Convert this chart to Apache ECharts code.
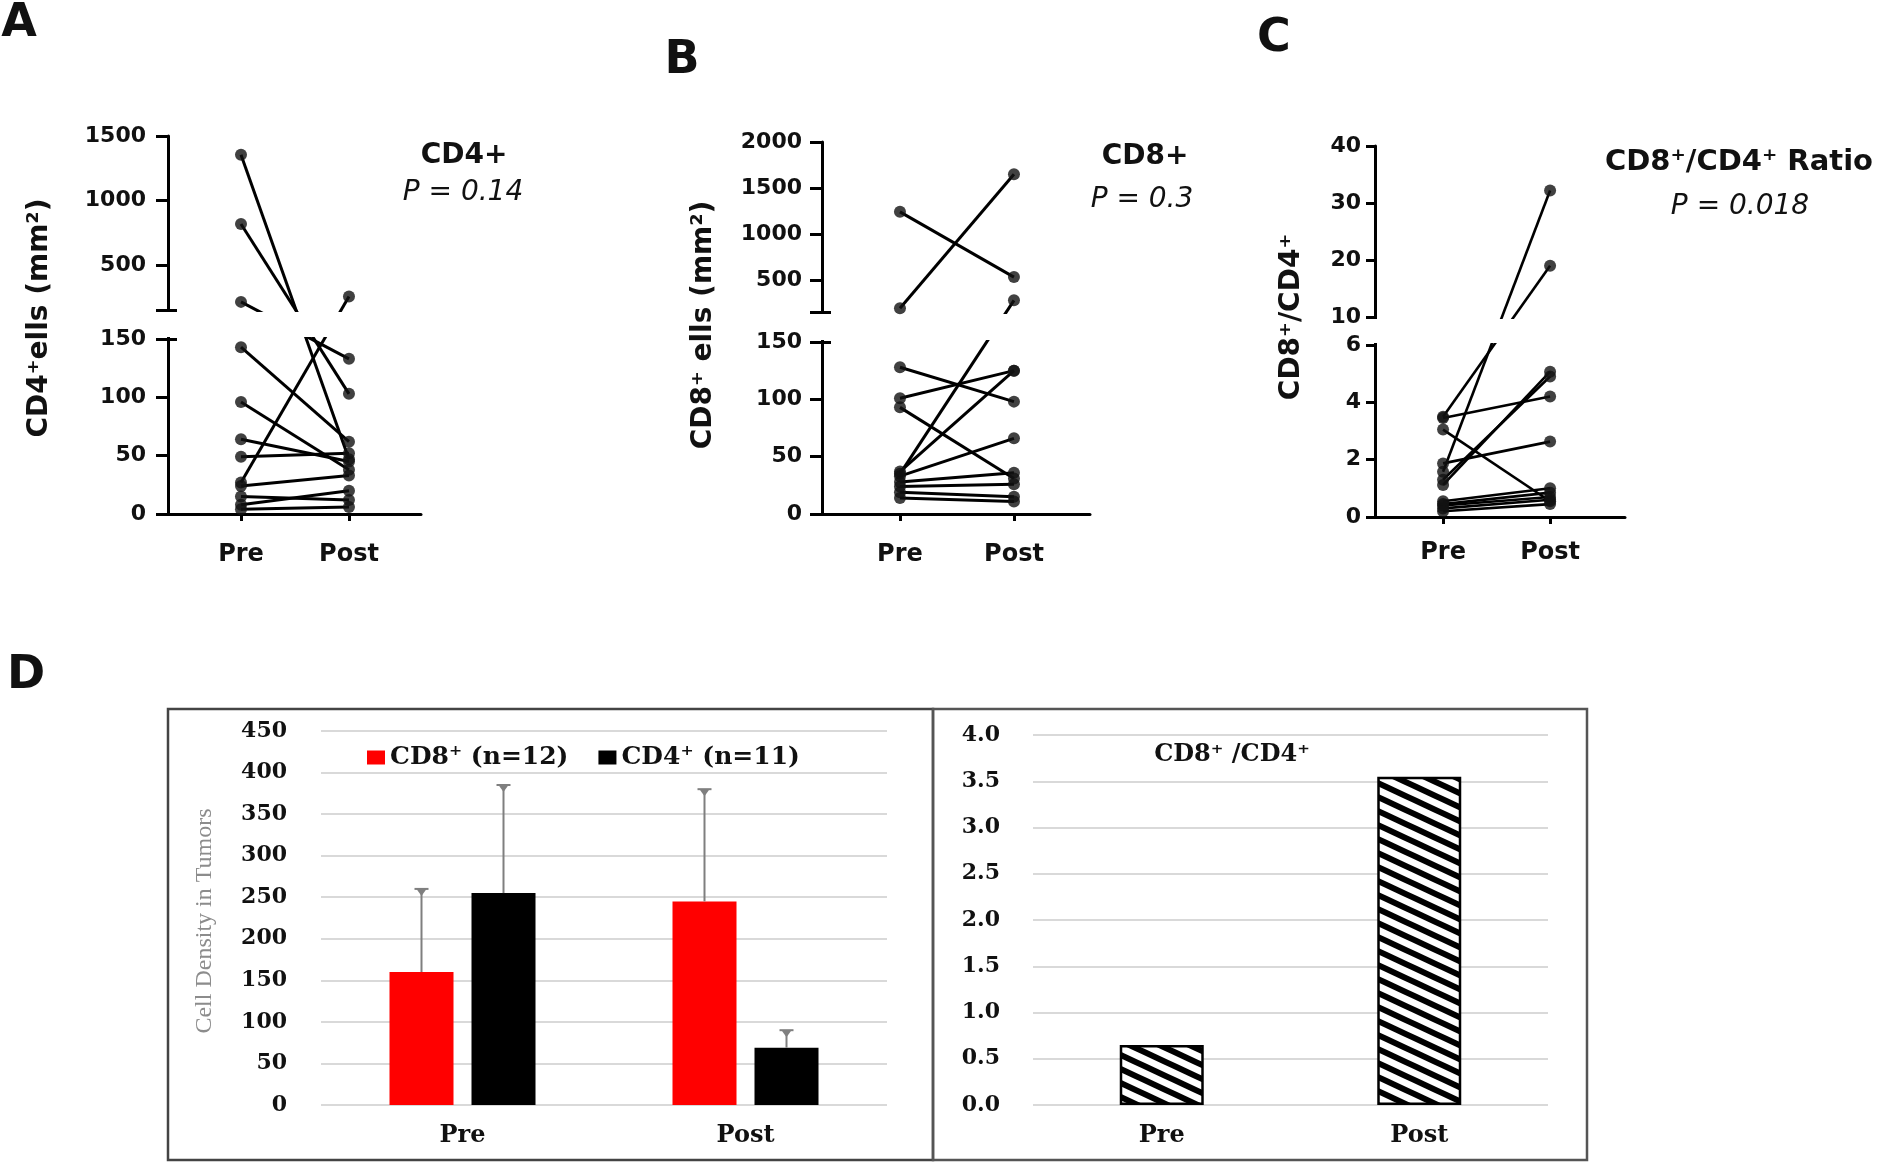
<!DOCTYPE html>
<html>
<head>
<meta charset="utf-8">
<script src="https://cdn.jsdelivr.net/npm/echarts@6/dist/echarts.min.js"></script>
<style>html,body{margin:0;padding:0;background:#fff}#c{width:1887px;height:1163px}</style>
</head>
<body>
<div id="c"></div>
<script>
// ---------------- Data ----------------
const pairCategories = ['Pre', 'Post'];

// Panel A: CD4+ cells (mm^2), paired Pre -> Post
const cd4Pre  = [1354, 817, 213, 143, 96, 64, 49, 27, 24, 15, 8, 4];
const cd4Post = [47, 103, 133, 62, 38, 45, 52, 255, 33, 12, 20, 6];

// Panel B: CD8+ cells (mm^2)
const cd8Pre  = [1240, 190, 128, 101, 93, 35, 37, 33, 28, 24, 19, 14];
const cd8Post = [530, 1650, 98, 125, 31, 277, 125, 66, 36, 26, 15, 11];

// Panel C: CD8+/CD4+ ratio
const ratioPre  = [3.5, 3.45, 3.05, 1.87, 1.58, 1.3, 1.12, 0.55, 0.45, 0.4, 0.3, 0.2];
const ratioPost = [19, 4.2, 0.55, 2.63, 32.2, 4.9, 5.07, 1.0, 0.85, 0.7, 0.6, 0.45];

// Tick labels of the broken axes
const cd4TicksLow  = [0, 50, 100, 150];
const cd4TicksHigh = [500, 1000, 1500];
const cd8TicksLow  = [0, 50, 100, 150];
const cd8TicksHigh = [500, 1000, 1500, 2000];
const ratioTicksLow  = [0, 2, 4, 6];
const ratioTicksHigh = [10, 20, 30, 40];

// Panel D left: cell density (mean, SD)
const densityCategories = ['Pre', 'Post'];
const cd8Mean = [160, 245];
const cd8Sd   = [100, 135];
const cd4Mean = [255, 69];
const cd4Sd   = [130, 21];

// Panel D right: CD8+/CD4+ mean ratio
const ratioCategories = ['Pre', 'Post'];
const ratioMean = [0.65, 3.55];

// ---------------- Layout / styles ----------------
const SANS = 'DejaVu Sans';
const SERIF = 'DejaVu Serif';

const panels = [
  { pre: cd4Pre, post: cd4Post, low: cd4TicksLow, high: cd4TicksHigh,
    lowMax: 150, upMin: 150, upMax: 1500, lowH: 175, gapH: 29, upH: 174,
    left: 168, width: 253, bottom: 514, xMin: 0.324, xMax: 2.667,
    caps: true, tickLen: 12, labelMargin: 22, lineW: 3, xMargin: 29 },
  { pre: cd8Pre, post: cd8Post, low: cd8TicksLow, high: cd8TicksHigh,
    lowMax: 150, upMin: 150, upMax: 2000, lowH: 172, gapH: 30, upH: 170,
    left: 822, width: 268, bottom: 514, xMin: 0.316, xMax: 2.667,
    caps: true, tickLen: 12, labelMargin: 20, lineW: 3, xMargin: 29 },
  { pre: ratioPre, post: ratioPost, low: ratioTicksLow, high: ratioTicksHigh,
    lowMax: 6, upMin: 10, upMax: 40, lowH: 172, gapH: 28, upH: 171,
    left: 1375, width: 250, bottom: 517, xMin: 0.364, xMax: 2.70,
    caps: false, tickLen: 9, labelMargin: 14, lineW: 2.6, xMargin: 24 }
];

const grids = [], xAxes = [], yAxes = [], series = [];

panels.forEach((p, i) => {
  const total = p.lowH + p.gapH + p.upH;
  const upper = v => p.lowH + p.gapH + (v - p.upMin) / (p.upMax - p.upMin) * p.upH;
  const f = v => (v <= p.lowMax ? v / p.lowMax * p.lowH : upper(v));
  p.total = total;
  grids.push({ left: p.left, width: p.width, top: p.bottom - total, height: total });

  const labelMap = {};
  const labelPos = [];
  p.low.forEach(v => { const y = v / p.lowMax * p.lowH; labelMap[y.toFixed(3)] = String(v); labelPos.push(y); });
  p.high.forEach(v => { const y = upper(v); labelMap[y.toFixed(3)] = String(v); labelPos.push(y); });
  const tickPos = labelPos.slice();
  if (p.caps) tickPos.push(p.lowH + p.gapH);

  xAxes.push({
    type: 'value', gridIndex: i, min: p.xMin, max: p.xMax,
    axisLine: { onZero: false, lineStyle: { color: '#000', width: 3 } },
    axisTick: { customValues: [1, 2], length: 7, lineStyle: { color: '#000', width: 3 } },
    axisLabel: { customValues: [1, 2], formatter: v => pairCategories[Math.round(v) - 1],
      margin: p.xMargin, fontFamily: SANS, fontWeight: 'bold', fontSize: 24, color: '#111' },
    splitLine: { show: false }
  });

  p.yIndex = yAxes.length;
  yAxes.push({
    type: 'value', gridIndex: i, min: 0, max: total, position: 'left',
    axisLine: { show: true, onZero: false, lineStyle: { color: '#000', width: 3 } },
    axisTick: { show: true, customValues: tickPos, length: p.tickLen, lineStyle: { color: '#000', width: 3 } },
    axisLabel: { customValues: labelPos, formatter: v => labelMap[v.toFixed(3)] || '',
      margin: p.labelMargin, fontFamily: SANS, fontWeight: 'bold', fontSize: 22, color: '#111' },
    splitLine: { show: false }
  });
  if (p.caps) {
    yAxes.push({
      type: 'value', gridIndex: i, min: 0, max: total, position: 'left', offset: 0,
      axisLine: { show: false, onZero: false },
      axisTick: { show: true, inside: true, customValues: [p.lowH, p.lowH + p.gapH], length: 9,
        lineStyle: { color: '#000', width: 3 } },
      axisLabel: { show: false }, splitLine: { show: false }
    });
  }

  p.pre.forEach((a, k) => {
    series.push({
      type: 'line', xAxisIndex: i, yAxisIndex: p.yIndex, silent: true, animation: false,
      data: [[1, f(a)], [2, f(p.post[k])]], symbol: 'none',
      lineStyle: { color: '#000', width: p.lineW }, z: 2
    });
  });
  series.push({
    type: 'scatter', xAxisIndex: i, yAxisIndex: p.yIndex, silent: true, animation: false,
    data: p.pre.map(a => [1, f(a)]).concat(p.post.map(b => [2, f(b)])),
    symbol: 'circle', symbolSize: 12, itemStyle: { color: '#111' }, z: 150
  });
});

// ---- Panel D left ----
const BW = 64, BG = 18;
grids.push({ left: 321, top: 731, width: 566, height: 374 });
xAxes.push({
  type: 'category', gridIndex: 3, data: densityCategories,
  axisLine: { show: false }, axisTick: { show: false },
  axisLabel: { margin: 19, fontFamily: SERIF, fontWeight: 'bold', fontSize: 24, color: '#111' }
});
const dLeftY = yAxes.length;
yAxes.push({
  type: 'value', gridIndex: 3, min: 0, max: 450, interval: 50,
  axisLine: { show: false }, axisTick: { show: false },
  axisLabel: { margin: 34, fontFamily: SERIF, fontWeight: 'bold', fontSize: 22, color: '#111' },
  splitLine: { lineStyle: { color: '#d9d9d9', width: 2 } }
});
series.push({
  name: 'CD8⁺ (n=12)', type: 'bar', xAxisIndex: 3, yAxisIndex: dLeftY, data: cd8Mean,
  barWidth: BW, barGap: (BG / BW * 100) + '%', itemStyle: { color: '#ff0000' }, animation: false
});
series.push({
  name: 'CD4⁺ (n=11)', type: 'bar', xAxisIndex: 3, yAxisIndex: dLeftY, data: cd4Mean,
  barWidth: BW, barGap: (BG / BW * 100) + '%', itemStyle: { color: '#000000' }, animation: false
});
function errRender(offset) {
  return function (params, api) {
    const c = api.value(0), m = api.value(1), s = api.value(2);
    const p0 = api.coord([c, m]);
    const p1 = api.coord([c, m + s]);
    const x = p0[0] + offset, yt = p1[1];
    const st = { stroke: '#7f7f7f', lineWidth: 2 };
    return { type: 'group', children: [
      { type: 'line', shape: { x1: x, y1: p0[1], x2: x, y2: yt }, style: st },
      { type: 'line', shape: { x1: x - 7, y1: yt, x2: x + 7, y2: yt }, style: st },
      { type: 'polygon', shape: { points: [[x - 5, yt], [x + 5, yt], [x, yt + 7]] }, style: { fill: '#7f7f7f' } }
    ] };
  };
}
series.push({
  type: 'custom', xAxisIndex: 3, yAxisIndex: dLeftY, renderItem: errRender(-(BW + BG) / 2),
  data: densityCategories.map((c, i) => [i, cd8Mean[i], cd8Sd[i]]), encode: { x: 0, y: 1 }, z: 5, silent: true, animation: false
});
series.push({
  type: 'custom', xAxisIndex: 3, yAxisIndex: dLeftY, renderItem: errRender((BW + BG) / 2),
  data: densityCategories.map((c, i) => [i, cd4Mean[i], cd4Sd[i]]), encode: { x: 0, y: 1 }, z: 5, silent: true, animation: false
});

// ---- Panel D right ----
function hatch() {
  const c = document.createElement('canvas');
  c.width = 30; c.height = 14;
  const g = c.getContext('2d');
  g.fillStyle = '#fff'; g.fillRect(0, 0, 30, 14);
  g.strokeStyle = '#000'; g.lineWidth = 6;
  for (let k = -2; k <= 2; k++) {
    g.beginPath(); g.moveTo(-30, k * 14 - 14); g.lineTo(60, k * 14 + 28); g.stroke();
  }
  return c;
}
grids.push({ left: 1033, top: 735, width: 515, height: 370 });
xAxes.push({
  type: 'category', gridIndex: 4, data: ratioCategories,
  axisLine: { show: false }, axisTick: { show: false },
  axisLabel: { margin: 19, fontFamily: SERIF, fontWeight: 'bold', fontSize: 24, color: '#111' }
});
const dRightY = yAxes.length;
yAxes.push({
  type: 'value', gridIndex: 4, min: 0, max: 4, interval: 0.5,
  axisLine: { show: false }, axisTick: { show: false },
  axisLabel: { margin: 33, formatter: v => v.toFixed(1), fontFamily: SERIF, fontWeight: 'bold', fontSize: 22, color: '#111' },
  splitLine: { lineStyle: { color: '#d9d9d9', width: 2 } }
});
series.push({
  type: 'bar', xAxisIndex: 4, yAxisIndex: dRightY, data: ratioMean, barWidth: 84, animation: false,
  itemStyle: { color: { image: hatch(), repeat: 'repeat' }, borderColor: '#000', borderWidth: 2.5 }
});

const chart = echarts.init(document.getElementById('c'));
chart.setOption({
  animation: false,
  backgroundColor: '#fff',
  textStyle: { fontFamily: SANS },
  grid: grids.map(g => Object.assign({ outerBoundsMode: 'none', containLabel: false }, g)),
  xAxis: xAxes,
  yAxis: yAxes,
  legend: {
    data: ['CD8⁺ (n=12)', 'CD4⁺ (n=11)'], left: 367, top: 745, icon: 'rect',
    itemWidth: 18, itemHeight: 14, itemGap: 30, padding: 0,
    textStyle: { fontFamily: SERIF, fontWeight: 'bold', fontSize: 25, color: '#111' }
  },
  series: series
});

// ---- texts, boxes and axis-break masks ----
function txt(text, x, y, font, opts) {
  return Object.assign({ type: 'text', x: x, y: y, z: 200,
    style: { text: text, font: font, fill: '#111', textAlign: 'center', textVerticalAlign: 'middle' } }, opts || {});
}
const els = [];
els.push(txt('A', 19, 24, 'bold 46px "DejaVu Sans"'));
els.push(txt('B', 682, 61, 'bold 46px "DejaVu Sans"'));
els.push(txt('C', 1274, 39, 'bold 46px "DejaVu Sans"'));
els.push(txt('D', 26, 676, 'bold 46px "DejaVu Sans"'));

els.push(txt('CD4+', 464, 156, 'bold 28px "DejaVu Sans"'));
els.push(txt('P = 0.14', 463, 193, 'italic 28px "DejaVu Sans"'));
els.push(txt('CD8+', 1145, 157, 'bold 28px "DejaVu Sans"'));
els.push(txt('P = 0.3', 1142, 200, 'italic 28px "DejaVu Sans"'));
els.push(txt('CD8⁺/CD4⁺ Ratio', 1739, 162, 'bold 29px "DejaVu Sans"'));
els.push(txt('P = 0.018', 1740, 207, 'italic 28px "DejaVu Sans"'));

els.push(txt('CD4⁺ells (mm²)', 40, 318, 'bold 28px "DejaVu Sans"', { rotation: Math.PI / 2 }));
els.push(txt('CD8⁺ ells (mm²)', 704, 325, 'bold 28px "DejaVu Sans"', { rotation: Math.PI / 2 }));
els.push(txt('CD8⁺/CD4⁺', 1292, 317, 'bold 28px "DejaVu Sans"', { rotation: Math.PI / 2 }));

els.push(txt('Cell Density in Tumors', 205, 921, '24px "Liberation Serif"', { rotation: Math.PI / 2 }));
els[els.length - 1].style.fill = '#8c8c8c';
els.push(txt('CD8⁺ /CD4⁺', 1232, 755, 'bold 24px "DejaVu Serif"'));

els.push({ type: 'rect', z: 1, shape: { x: 168, y: 709, width: 765, height: 451 },
  style: { fill: 'none', stroke: '#444', lineWidth: 2.5 } });
els.push({ type: 'rect', z: 1, shape: { x: 933, y: 709, width: 654, height: 451 },
  style: { fill: 'none', stroke: '#555', lineWidth: 2.5 } });

panels.forEach((p, i) => {
  const a = chart.convertToPixel({ gridIndex: i }, [p.xMin, p.lowH]);
  const b = chart.convertToPixel({ gridIndex: i }, [p.xMax, p.lowH + p.gapH]);
  els.push({ type: 'rect', z: 100,
    shape: { x: a[0] - 3, y: b[1] + 2, width: b[0] - a[0] + 6, height: a[1] - b[1] - 4 },
    style: { fill: '#fff' } });
});

chart.setOption({ graphic: { elements: els } });
</script>
</body>
</html>
